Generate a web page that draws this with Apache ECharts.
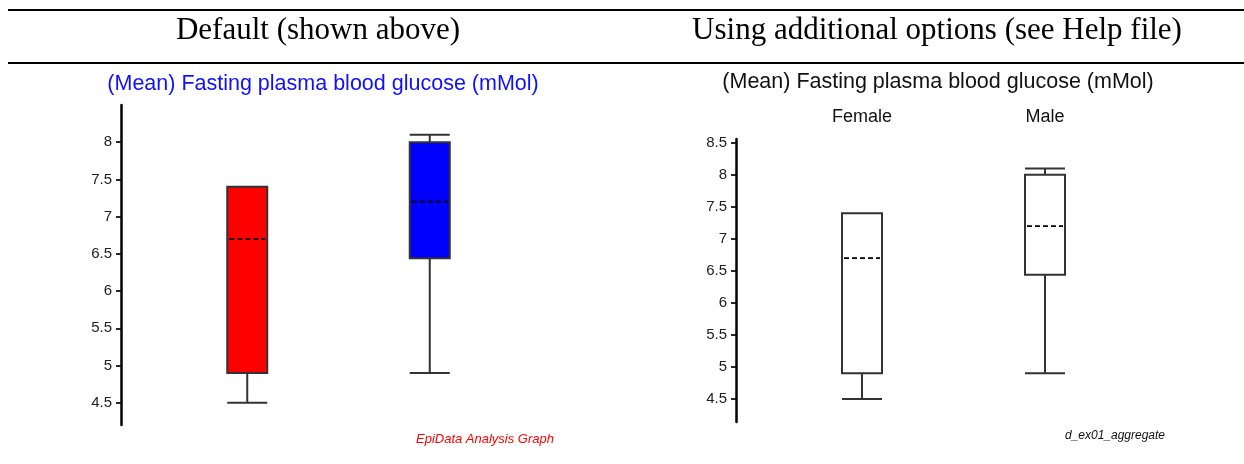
<!DOCTYPE html>
<html>
<head>
<meta charset="utf-8">
<script src="https://cdn.jsdelivr.net/npm/echarts@6/dist/echarts.min.js"></script>
<style>
html,body{margin:0;padding:0;background:#fff;}
#c{width:1244px;height:464px;}
</style>
</head>
<body>
<div id="c"></div>
<script>
// ---- data ----
var categories = ['Female', 'Male'];
// [min, Q1, median, Q3, max]
var femaleBox = [4.5, 4.9, 7.4, 7.4, 7.4];
var maleBox = [4.9, 6.44, 8.0, 8.0, 8.1];
var meanValues = [6.7, 7.2];
var leftTicks = [4.5, 5, 5.5, 6, 6.5, 7, 7.5, 8];
var rightTicks = [4.5, 5, 5.5, 6, 6.5, 7, 7.5, 8, 8.5];
var headerTexts = ['Default (shown above)', 'Using additional options (see Help file)'];
var chartTitle = '(Mean) Fasting plasma blood glucose (mMol)';
var footLeft = 'EpiData Analysis Graph';
var footRight = 'd_ex01_aggregate';

// ---- chart ----
var chart = echarts.init(document.getElementById('c'), null, {renderer: 'canvas'});
var boxes = [femaleBox, maleBox];
var leftColors = ['#ff0000', '#0000ff'];
var sans = 'Liberation Sans, Arial, sans-serif';

function meanSeries(xi, yi) {
  return {
    type: 'custom', xAxisIndex: xi, yAxisIndex: yi, silent: true, z: 10,
    data: meanValues.map(function (m, i) { return [i, m]; }),
    renderItem: function (params, api) {
      var p = api.coord([api.value(0), api.value(1)]);
      var h = 18;
      return {
        type: 'line',
        shape: {x1: p[0] - h, y1: p[1], x2: p[0] + h, y2: p[1]},
        style: {stroke: '#000', lineWidth: 1.8, lineDash: [5, 3]}
      };
    }
  };
}

function yAxisCfg(grid, min, max, ticks, offset) {
  return {
    type: 'value', gridIndex: grid, min: min, max: max, offset: offset,
    splitLine: {show: false},
    axisLine: {show: true, lineStyle: {color: '#000', width: 2.5}},
    axisTick: {show: true, length: 5, customValues: ticks, lineStyle: {color: '#111', width: 1.8}},
    axisLabel: {customValues: ticks, margin: 9, fontSize: 15, color: '#222', fontFamily: sans}
  };
}

var option = {
  animation: false,
  grid: [
    {left: 156, top: 105, width: 365, height: 320},
    {left: 770.5, top: 139, width: 366, height: 283}
  ],
  xAxis: [
    {type: 'category', gridIndex: 0, data: categories, show: false},
    {type: 'category', gridIndex: 1, data: categories, position: 'top',
     axisLine: {show: false}, axisTick: {show: false}, splitLine: {show: false},
     axisLabel: {fontSize: 18, color: '#111', margin: 13, fontFamily: sans}}
  ],
  yAxis: [
    yAxisCfg(0, 4.2, 8.5, leftTicks, 35),
    yAxisCfg(1, 4.14, 8.56, rightTicks, 34.5)
  ],
  series: [
    {
      type: 'boxplot', xAxisIndex: 0, yAxisIndex: 0, boxWidth: [40, 40],
      silent: true,
      data: boxes.map(function (b, i) { return {value: b, itemStyle: {color: leftColors[i]}}; }),
      itemStyle: {borderColor: '#333', borderWidth: 2}
    },
    meanSeries(0, 0),
    {
      type: 'boxplot', xAxisIndex: 1, yAxisIndex: 1, boxWidth: [40, 40],
      silent: true,
      data: boxes,
      itemStyle: {color: '#fff', borderColor: '#333', borderWidth: 2}
    },
    meanSeries(1, 1)
  ],
  graphic: [
    {type: 'line', shape: {x1: 8, y1: 10, x2: 1244, y2: 10}, style: {stroke: '#000', lineWidth: 2}},
    {type: 'line', shape: {x1: 8, y1: 63, x2: 1244, y2: 63}, style: {stroke: '#000', lineWidth: 2}},
    {type: 'text', x: 318, y: 31, style: {text: headerTexts[0], font: '31px "Liberation Serif", "Times New Roman", serif', fill: '#000', textAlign: 'center', textVerticalAlign: 'middle'}},
    {type: 'text', x: 937, y: 31, style: {text: headerTexts[1], font: '31px "Liberation Serif", "Times New Roman", serif', fill: '#000', textAlign: 'center', textVerticalAlign: 'middle'}},
    {type: 'text', x: 323, y: 84, style: {text: chartTitle, font: '21.5px "Liberation Sans", Arial, sans-serif', fill: '#1010ff', textAlign: 'center', textVerticalAlign: 'middle'}},
    {type: 'text', x: 938, y: 82, style: {text: chartTitle, font: '21.5px "Liberation Sans", Arial, sans-serif', fill: '#111', textAlign: 'center', textVerticalAlign: 'middle'}},
    {type: 'text', x: 485, y: 439, style: {text: footLeft, font: 'italic 13px "Liberation Sans", Arial, sans-serif', fill: '#ff0000', textAlign: 'center', textVerticalAlign: 'middle'}},
    {type: 'text', x: 1115, y: 436, style: {text: footRight, font: 'italic 12px "Liberation Sans", Arial, sans-serif', fill: '#111', textAlign: 'center', textVerticalAlign: 'middle'}}
  ]
};
chart.setOption(option);
</script>
</body>
</html>
